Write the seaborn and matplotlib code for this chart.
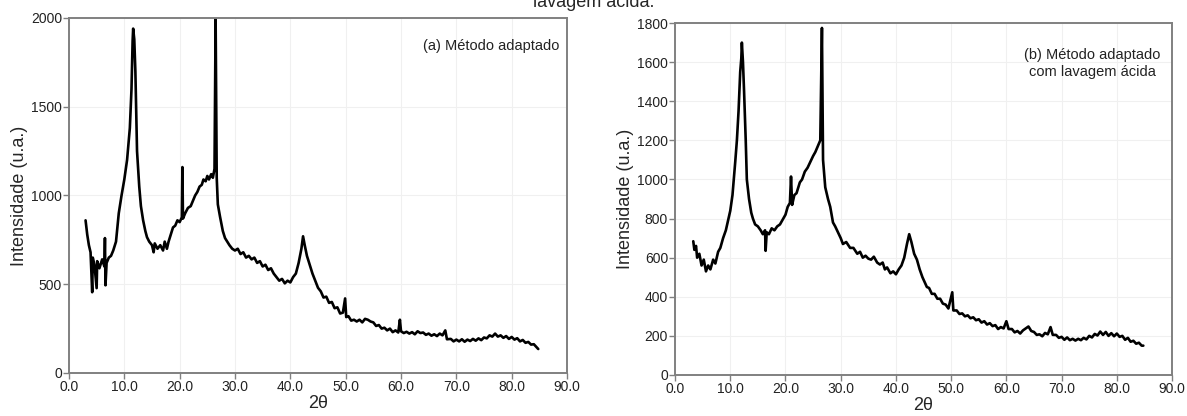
import matplotlib
matplotlib.use("Agg")
import matplotlib.pyplot as plt
import seaborn as sns
import pandas as pd
from matplotlib.ticker import FormatStrFormatter

# Panel (a): Método adaptado  (2theta, intensity)
tth_a = [3.0, 3.3, 3.6, 3.9, 4.2, 4.3, 4.6, 5.0, 5.1, 5.5,
         6.0, 6.4, 6.5, 6.6, 6.8, 7.2, 7.6, 8.0, 8.5, 9.0,
         9.5, 10.0, 10.5, 11.0, 11.3, 11.5, 11.6, 11.8, 12.0, 12.3,
         12.7, 13.0, 13.4, 13.8, 14.1, 14.5, 15.0, 15.3, 15.5, 16.0,
         16.5, 17.0, 17.3, 17.7, 18.0, 18.4, 18.8, 19.2, 19.6, 20.0,
         20.4, 20.5, 20.6, 21.0, 21.5, 22.0, 22.4, 22.8, 23.2, 23.6,
         24.0, 24.3, 24.7, 25.0, 25.3, 25.7, 26.0, 26.3, 26.5, 26.7,
         26.9, 27.3, 27.8, 28.2, 28.6, 29.0, 29.5, 30.0, 30.5, 31.0,
         31.5, 32.0, 32.5, 33.0, 33.5, 34.0, 34.5, 35.0, 35.5, 36.0,
         36.5, 37.0, 37.5, 38.0, 38.5, 39.0, 39.5, 40.0, 40.5, 41.0,
         41.5, 42.0, 42.3, 42.6, 43.0, 43.5, 44.0, 44.5, 45.0, 45.5,
         46.0, 46.5, 47.0, 47.5, 48.0, 48.5, 49.0, 49.5, 49.9, 50.1,
         50.5, 51.0, 51.5, 52.0, 52.5, 53.0, 53.5, 54.0, 54.5, 55.0,
         55.5, 56.0, 56.5, 57.0, 57.5, 58.0, 58.5, 59.0, 59.5, 59.8,
         60.0, 60.5, 61.0, 61.5, 62.0, 62.5, 63.0, 63.5, 64.0, 64.5,
         65.0, 65.5, 66.0, 66.5, 67.0, 67.5, 68.0, 68.3, 69.0, 69.5,
         70.0, 70.5, 71.0, 71.5, 72.0, 72.5, 73.0, 73.5, 74.0, 74.5,
         75.0, 75.5, 76.0, 76.5, 77.0, 77.5, 78.0, 78.5, 79.0, 79.5,
         80.0, 80.5, 81.0, 81.5, 82.0, 82.5, 83.0, 83.5, 84.0, 84.5,
         84.8]
int_a = [860, 780, 720, 680, 455, 650, 610, 478, 630, 590,
         640, 600, 760, 494, 620, 650, 660, 690, 740, 900,
         1000, 1090, 1200, 1380, 1600, 1870, 1940, 1880, 1700, 1250,
         1050, 940, 860, 800, 765, 740, 720, 680, 730, 700,
         720, 690, 740, 700, 740, 780, 820, 830, 860, 850,
         877, 1160, 870, 900, 930, 940, 970, 1000, 1020, 1050,
         1060, 1090, 1080, 1110, 1090, 1120, 1100, 1150, 2000, 1100,
         950, 880, 800, 760, 740, 720, 700, 690, 700, 670,
         680, 650, 660, 640, 650, 620, 630, 600, 610, 580,
         590, 560, 540, 520, 530, 505, 520, 510, 540, 560,
         620, 700, 770, 720, 660, 610, 560, 520, 480, 460,
         425, 430, 395, 400, 365, 370, 335, 340, 420, 315,
         320, 295, 300, 290, 300, 285, 305, 300, 290, 285,
         265, 270, 250, 255, 240, 250, 230, 240, 228, 300,
         235, 225, 232, 222, 230, 218, 235, 225, 228, 215,
         222, 210, 218, 208, 222, 212, 240, 190, 192, 178,
         188, 178, 190, 176, 188, 180, 192, 182, 195, 185,
         200, 195, 212, 205, 222, 205, 212, 198, 208, 192,
         203, 188, 196, 178, 186, 170, 175, 160, 162, 145,
         135]

# Panel (b): Método adaptado com lavagem ácida
tth_b = [3.3, 3.5, 3.8, 4.0, 4.4, 4.8, 5.2, 5.6, 6.0, 6.4,
         6.9, 7.3, 7.8, 8.2, 8.7, 9.2, 9.6, 10.0, 10.4, 10.9,
         11.2, 11.5, 11.8, 12.0, 12.1, 12.3, 12.5, 12.8, 13.0, 13.4,
         13.8, 14.1, 14.5, 15.0, 15.5, 15.9, 16.3, 16.4, 16.6, 17.0,
         17.5, 18.0, 18.5, 19.0, 19.6, 20.0, 20.4, 20.8, 21.0, 21.2,
         21.6, 22.0, 22.6, 23.0, 23.5, 24.0, 24.5, 25.0, 25.4, 25.7,
         26.0, 26.3, 26.6, 26.8, 27.2, 27.7, 28.1, 28.6, 29.0, 29.5,
         30.0, 30.4, 31.0, 31.7, 32.3, 33.0, 33.5, 34.0, 34.5, 35.0,
         35.5, 36.0, 36.6, 37.1, 37.6, 38.0, 38.4, 39.0, 39.5, 40.0,
         40.5, 41.0, 41.5, 42.0, 42.4, 42.8, 43.3, 43.8, 44.3, 44.8,
         45.2, 45.6, 46.0, 46.5, 47.0, 47.5, 48.0, 48.5, 49.0, 49.5,
         50.2, 50.4, 51.0, 51.5, 52.0, 52.5, 53.0, 53.5, 54.0, 54.5,
         55.0, 55.5, 56.0, 56.5, 57.0, 57.5, 58.0, 58.5, 59.0, 59.5,
         60.0, 60.4, 61.0, 61.5, 62.0, 62.5, 63.0, 63.5, 64.0, 64.5,
         65.0, 65.5, 66.0, 66.5, 67.0, 67.5, 68.0, 68.4, 69.0, 69.5,
         70.0, 70.5, 71.0, 71.5, 72.0, 72.5, 73.0, 73.5, 74.0, 74.5,
         75.0, 75.5, 76.0, 76.5, 77.0, 77.5, 78.0, 78.5, 79.0, 79.5,
         80.0, 80.5, 81.0, 81.5, 82.0, 82.5, 83.0, 83.5, 84.0, 84.5,
         84.8]
int_b = [684, 640, 660, 600, 620, 560, 590, 530, 560, 540,
         590, 570, 630, 650, 700, 740, 790, 840, 920, 1090,
         1200, 1350, 1550, 1620, 1700, 1600, 1450, 1200, 1000, 900,
         830, 800, 770, 760, 740, 720, 740, 635, 730, 720,
         750, 740, 760, 770, 800, 820, 860, 880, 1015, 870,
         920, 930, 985, 1000, 1040, 1060, 1090, 1120, 1140, 1160,
         1180, 1200, 1775, 1100, 960, 900, 860, 780, 760, 730,
         700, 670, 680, 650, 650, 620, 630, 600, 610, 595,
         590, 605, 575, 565, 575, 540, 550, 520, 530, 515,
         540, 560, 600, 670, 720, 680, 620, 590, 540, 500,
         475, 450, 445, 415, 415, 390, 390, 365, 360, 340,
         423, 330, 330, 312, 315, 300, 305, 290, 295, 280,
         285, 268, 275, 258, 265, 250, 255, 235, 245, 238,
         275, 235, 235, 218, 225, 212, 228, 238, 248, 225,
         220, 205, 208, 198, 215, 208, 245, 205, 205, 190,
         195, 180, 192, 178, 185, 176, 185, 178, 190, 182,
         200, 192, 210, 202, 222, 205, 220, 200, 214, 198,
         212, 195, 200, 180, 190, 170, 175, 160, 165, 150,
         150]

panel_a_label = "(a) Método adaptado"
panel_b_label = "(b) Método adaptado\ncom lavagem ácida"
xticks = [0, 10, 20, 30, 40, 50, 60, 70, 80, 90]
yticks_a = [0, 500, 1000, 1500, 2000]
yticks_b = [0, 200, 400, 600, 800, 1000, 1200, 1400, 1600, 1800]

sns.set_style("whitegrid", {"grid.color": "#f0f0f0", "axes.edgecolor": "#808080"})
plt.rcParams['font.family'] = ['Liberation Sans', 'DejaVu Sans']

fig = plt.figure(figsize=(11.87, 4.16), dpi=100)
ax_a = fig.add_axes([0.0581, 0.1034, 0.4196, 0.8534])
ax_b = fig.add_axes([0.5687, 0.0986, 0.4187, 0.8460])

df_a = pd.DataFrame({"tth": tth_a, "I": int_a})
df_b = pd.DataFrame({"tth": tth_b, "I": int_b})

panels = [
    (ax_a, df_a, yticks_a, 2000, panel_a_label, 'right'),
    (ax_b, df_b, yticks_b, 1800, panel_b_label, 'center'),
]
for ax, df, yt, ymax, label, ha in panels:
    sns.lineplot(data=df, x="tth", y="I", ax=ax, color="black", linewidth=1.9,
                 sort=False, estimator=None)
    ax.set_xlim(0, 90)
    ax.set_ylim(0, ymax)
    ax.set_xticks(xticks)
    ax.set_yticks(yt)
    ax.xaxis.set_major_formatter(FormatStrFormatter('%.1f'))
    ax.tick_params(axis='both', direction='out', length=4, width=1, color='#808080',
                   labelsize=10, labelcolor='#222222', pad=1,
                   bottom=True, left=True)
    for s in ax.spines.values():
        s.set_color('#808080')
        s.set_linewidth(1.4)
    ax.set_xlabel("2θ", fontsize=13, labelpad=1)
    ax.set_ylabel("Intensidade (u.a.)", fontsize=13, labelpad=2)
    if ha == 'right':
        ax.text(0.985, 0.92, label, transform=ax.transAxes, ha='right', va='center',
                fontsize=10.5, color='#222222')
    else:
        ax.text(0.84, 0.885, label, transform=ax.transAxes, ha='center', va='center',
                fontsize=10.5, color='#222222', linespacing=1.2)

# caption line cut off at the top of the image, as in the source
fig.text(0.5, 0.995, "lavagem ácida.", ha='center', va='center', fontsize=13)

fig.savefig("out.png", dpi=100)
plt.close(fig)
